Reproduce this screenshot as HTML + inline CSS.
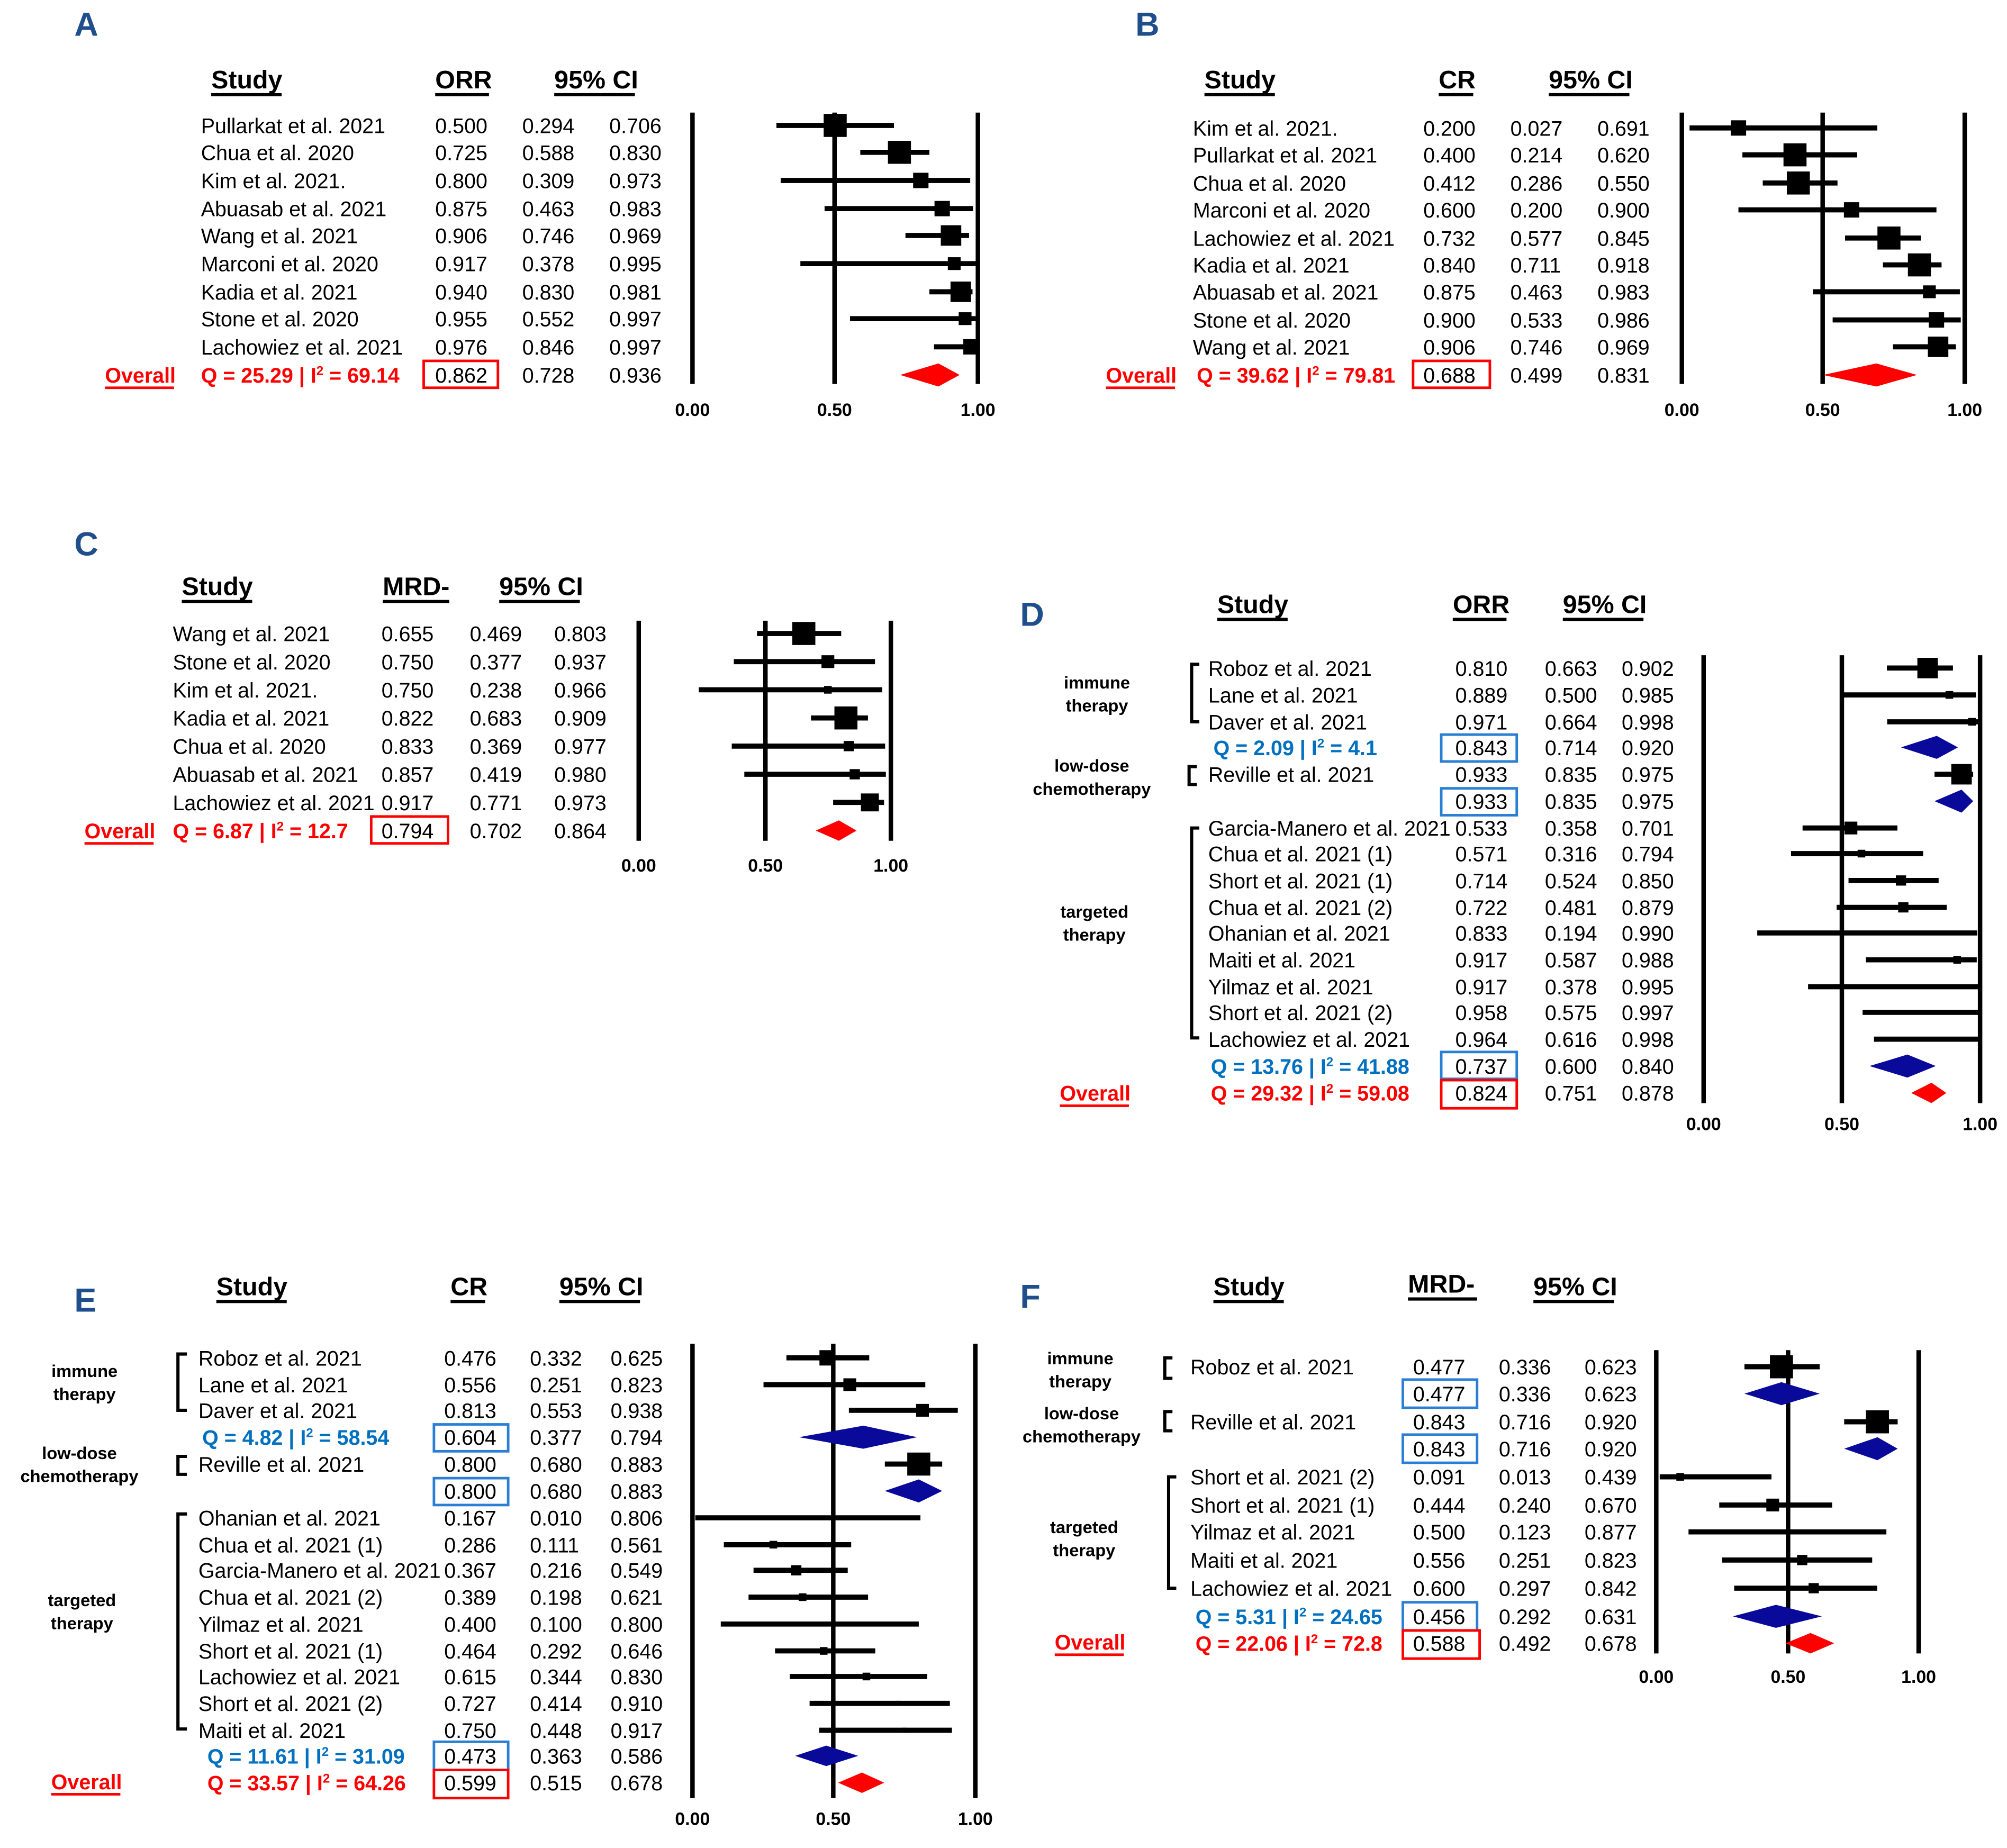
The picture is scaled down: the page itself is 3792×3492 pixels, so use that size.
<!DOCTYPE html>
<html><head><meta charset="utf-8"><style>
html,body{margin:0;padding:0;background:#fff}
svg{display:block}
text{font-family:"Liberation Sans",Arial,sans-serif;fill:#000}
.t{font-size:16.3px}
.h{font-size:20px;font-weight:bold}
.k{font-size:14px;font-weight:bold;text-anchor:middle}
.g{font-size:13.5px;font-weight:bold;text-anchor:middle}
.L{font-size:26px;font-weight:bold;fill:#1f4e8c}
.r{fill:#ff0000;font-weight:bold;font-size:16.3px}
.b{fill:#0070c0;font-weight:bold;font-size:16.3px}
.ax{stroke:#000;stroke-width:3.5}
.ci{stroke:#000;stroke-width:4}
.ul{stroke:#000;stroke-width:2.5}
</style></head><body>
<svg width="3792" height="3492" viewBox="0 0 1568 1444" xmlns="http://www.w3.org/2000/svg">
<rect width="1568" height="1444" fill="#fff"/>

<!-- ===== A ===== -->
<text class="L" x="58" y="28">A</text>
<text class="h" x="165" y="69">Study</text><line class="ul" x1="165" y1="74" x2="220" y2="74"/>
<text class="h" x="340" y="69">ORR</text><line class="ul" x1="340" y1="74" x2="382" y2="74"/>
<text class="h" x="433" y="69">95% CI</text><line class="ul" x1="433" y1="74" x2="496" y2="74"/>
<g class="t">
<text x="157" y="104">Pullarkat et al. 2021</text><text x="340" y="104">0.500</text><text x="408" y="104">0.294</text><text x="476" y="104">0.706</text>
<text x="157" y="125">Chua et al. 2020</text><text x="340" y="125">0.725</text><text x="408" y="125">0.588</text><text x="476" y="125">0.830</text>
<text x="157" y="147">Kim et al. 2021.</text><text x="340" y="147">0.800</text><text x="408" y="147">0.309</text><text x="476" y="147">0.973</text>
<text x="157" y="169">Abuasab et al. 2021</text><text x="340" y="169">0.875</text><text x="408" y="169">0.463</text><text x="476" y="169">0.983</text>
<text x="157" y="190">Wang et al. 2021</text><text x="340" y="190">0.906</text><text x="408" y="190">0.746</text><text x="476" y="190">0.969</text>
<text x="157" y="212">Marconi et al. 2020</text><text x="340" y="212">0.917</text><text x="408" y="212">0.378</text><text x="476" y="212">0.995</text>
<text x="157" y="234">Kadia et al. 2021</text><text x="340" y="234">0.940</text><text x="408" y="234">0.830</text><text x="476" y="234">0.981</text>
<text x="157" y="255">Stone et al. 2020</text><text x="340" y="255">0.955</text><text x="408" y="255">0.552</text><text x="476" y="255">0.997</text>
<text x="157" y="277">Lachowiez et al. 2021</text><text x="340" y="277">0.976</text><text x="408" y="277">0.846</text><text x="476" y="277">0.997</text>
<text x="340" y="299">0.862</text><text x="408" y="299">0.728</text><text x="476" y="299">0.936</text>
</g>
<text class="r" x="82" y="299">Overall</text><line x1="82" y1="303" x2="136" y2="303" stroke="#f00" stroke-width="2"/>
<text class="r" x="157" y="299">Q = 25.29 | I<tspan font-size="10" dy="-6">2</tspan><tspan dy="6"> = 69.14</tspan></text>
<rect x="331" y="282" width="58" height="21" fill="none" stroke="#f00" stroke-width="2"/>
<line class="ax" x1="541" y1="88" x2="541" y2="300"/><line class="ax" x1="652" y1="88" x2="652" y2="300"/><line class="ax" x1="764" y1="88" x2="764" y2="300"/>
<text class="k" x="541" y="325">0.00</text><text class="k" x="652" y="325">0.50</text><text class="k" x="764" y="325">1.00</text>
<line class="ci" x1="606.6" y1="98" x2="698.4" y2="98"/><rect x="643.5" y="89" width="18" height="18"/>
<line class="ci" x1="672.1" y1="119" x2="726.1" y2="119"/><rect x="693.7" y="110" width="18" height="18"/>
<line class="ci" x1="609.9" y1="141" x2="758" y2="141"/><rect x="713.4" y="135" width="12" height="12"/>
<line class="ci" x1="644.2" y1="163" x2="760.2" y2="163"/><rect x="730.1" y="157" width="12" height="12"/>
<line class="ci" x1="707.4" y1="184" x2="757.1" y2="184"/><rect x="735" y="176" width="16" height="16"/>
<line class="ci" x1="625.3" y1="206" x2="762.9" y2="206"/><rect x="740.5" y="201" width="10" height="10"/>
<line class="ci" x1="726.1" y1="228" x2="759.8" y2="228"/><rect x="742.6" y="220" width="16" height="16"/>
<line class="ci" x1="664.1" y1="249" x2="763.3" y2="249"/><rect x="749" y="244" width="10" height="10"/>
<line class="ci" x1="729.7" y1="271" x2="763.3" y2="271"/><rect x="752.6" y="265" width="12" height="12"/>
<polygon points="703.3,293 733.2,284 749.7,293 733.2,302" fill="#f00"/>

<!-- ===== B ===== -->
<text class="L" x="887" y="28">B</text>
<text class="h" x="941" y="69">Study</text><line class="ul" x1="941" y1="74" x2="996" y2="74"/>
<text class="h" x="1124" y="69">CR</text><line class="ul" x1="1124" y1="74" x2="1151" y2="74"/>
<text class="h" x="1210" y="69">95% CI</text><line class="ul" x1="1210" y1="74" x2="1273" y2="74"/>
<g class="t">
<text x="932" y="106">Kim et al. 2021.</text><text x="1112" y="106">0.200</text><text x="1180" y="106">0.027</text><text x="1248" y="106">0.691</text>
<text x="932" y="127">Pullarkat et al. 2021</text><text x="1112" y="127">0.400</text><text x="1180" y="127">0.214</text><text x="1248" y="127">0.620</text>
<text x="932" y="149">Chua et al. 2020</text><text x="1112" y="149">0.412</text><text x="1180" y="149">0.286</text><text x="1248" y="149">0.550</text>
<text x="932" y="170">Marconi et al. 2020</text><text x="1112" y="170">0.600</text><text x="1180" y="170">0.200</text><text x="1248" y="170">0.900</text>
<text x="932" y="192">Lachowiez et al. 2021</text><text x="1112" y="192">0.732</text><text x="1180" y="192">0.577</text><text x="1248" y="192">0.845</text>
<text x="932" y="213">Kadia et al. 2021</text><text x="1112" y="213">0.840</text><text x="1180" y="213">0.711</text><text x="1248" y="213">0.918</text>
<text x="932" y="234">Abuasab et al. 2021</text><text x="1112" y="234">0.875</text><text x="1180" y="234">0.463</text><text x="1248" y="234">0.983</text>
<text x="932" y="256">Stone et al. 2020</text><text x="1112" y="256">0.900</text><text x="1180" y="256">0.533</text><text x="1248" y="256">0.986</text>
<text x="932" y="277">Wang et al. 2021</text><text x="1112" y="277">0.906</text><text x="1180" y="277">0.746</text><text x="1248" y="277">0.969</text>
<text x="1112" y="299">0.688</text><text x="1180" y="299">0.499</text><text x="1248" y="299">0.831</text>
</g>
<text class="r" x="864" y="299">Overall</text><line x1="864" y1="303" x2="918" y2="303" stroke="#f00" stroke-width="2"/>
<text class="r" x="935" y="299">Q = 39.62 | I<tspan font-size="10" dy="-6">2</tspan><tspan dy="6"> = 79.81</tspan></text>
<rect x="1104" y="282" width="60" height="21" fill="none" stroke="#f00" stroke-width="2"/>
<line class="ax" x1="1314" y1="88" x2="1314" y2="300"/><line class="ax" x1="1424" y1="88" x2="1424" y2="300"/><line class="ax" x1="1535" y1="88" x2="1535" y2="300"/>
<text class="k" x="1314" y="325">0.00</text><text class="k" x="1424" y="325">0.50</text><text class="k" x="1535" y="325">1.00</text>
<line class="ci" x1="1320" y1="100" x2="1466.7" y2="100"/><rect x="1352.2" y="94" width="12" height="12"/>
<line class="ci" x1="1361.3" y1="121" x2="1451" y2="121"/><rect x="1393.4" y="112" width="18" height="18"/>
<line class="ci" x1="1377.2" y1="143" x2="1435.6" y2="143"/><rect x="1396" y="134" width="18" height="18"/>
<line class="ci" x1="1358.2" y1="164" x2="1512.9" y2="164"/><rect x="1440.6" y="158" width="12" height="12"/>
<line class="ci" x1="1441.5" y1="186" x2="1500.7" y2="186"/><rect x="1466.8" y="177" width="18" height="18"/>
<line class="ci" x1="1471.1" y1="207" x2="1516.9" y2="207"/><rect x="1490.6" y="198" width="18" height="18"/>
<line class="ci" x1="1416.3" y1="228" x2="1531.2" y2="228"/><rect x="1502.4" y="223" width="10" height="10"/>
<line class="ci" x1="1431.8" y1="250" x2="1531.9" y2="250"/><rect x="1506.9" y="244" width="12" height="12"/>
<line class="ci" x1="1478.9" y1="271" x2="1528.1" y2="271"/><rect x="1506.2" y="263" width="16" height="16"/>
<polygon points="1424.3,293 1466,284 1497.7,293 1466,302" fill="#f00"/>

<!-- ===== C ===== -->
<text class="L" x="58" y="434">C</text>
<text class="h" x="142" y="465">Study</text><line class="ul" x1="142" y1="470" x2="197" y2="470"/>
<text class="h" x="299" y="465">MRD-</text><line class="ul" x1="299" y1="470" x2="351" y2="470"/>
<text class="h" x="390" y="465">95% CI</text><line class="ul" x1="390" y1="470" x2="453" y2="470"/>
<g class="t">
<text x="135" y="501">Wang et al. 2021</text><text x="298" y="501">0.655</text><text x="367" y="501">0.469</text><text x="433" y="501">0.803</text>
<text x="135" y="523">Stone et al. 2020</text><text x="298" y="523">0.750</text><text x="367" y="523">0.377</text><text x="433" y="523">0.937</text>
<text x="135" y="545">Kim et al. 2021.</text><text x="298" y="545">0.750</text><text x="367" y="545">0.238</text><text x="433" y="545">0.966</text>
<text x="135" y="567">Kadia et al. 2021</text><text x="298" y="567">0.822</text><text x="367" y="567">0.683</text><text x="433" y="567">0.909</text>
<text x="135" y="589">Chua et al. 2020</text><text x="298" y="589">0.833</text><text x="367" y="589">0.369</text><text x="433" y="589">0.977</text>
<text x="135" y="611">Abuasab et al. 2021</text><text x="298" y="611">0.857</text><text x="367" y="611">0.419</text><text x="433" y="611">0.980</text>
<text x="135" y="633">Lachowiez et al. 2021</text><text x="298" y="633">0.917</text><text x="367" y="633">0.771</text><text x="433" y="633">0.973</text>
<text x="298" y="655">0.794</text><text x="367" y="655">0.702</text><text x="433" y="655">0.864</text>
</g>
<text class="r" x="66" y="655">Overall</text><line x1="66" y1="659" x2="120" y2="659" stroke="#f00" stroke-width="2"/>
<text class="r" x="135" y="655">Q = 6.87 | I<tspan font-size="10" dy="-6">2</tspan><tspan dy="6"> = 12.7</tspan></text>
<rect x="290" y="638" width="60" height="21" fill="none" stroke="#f00" stroke-width="2"/>
<line class="ax" x1="499" y1="485" x2="499" y2="657"/><line class="ax" x1="598" y1="485" x2="598" y2="657"/><line class="ax" x1="696" y1="485" x2="696" y2="657"/>
<text class="k" x="499" y="681">0.00</text><text class="k" x="598" y="681">0.50</text><text class="k" x="696" y="681">1.00</text>
<line class="ci" x1="591.4" y1="495" x2="657.2" y2="495"/><rect x="619" y="486" width="18" height="18"/>
<line class="ci" x1="573.3" y1="517" x2="683.6" y2="517"/><rect x="641.8" y="512" width="10" height="10"/>
<line class="ci" x1="545.9" y1="539" x2="689.3" y2="539"/><rect x="643.8" y="536" width="6" height="6"/>
<line class="ci" x1="633.6" y1="561" x2="678.1" y2="561"/><rect x="651.9" y="552" width="18" height="18"/>
<line class="ci" x1="571.7" y1="583" x2="691.5" y2="583"/><rect x="659.1" y="579" width="8" height="8"/>
<line class="ci" x1="581.5" y1="605" x2="692.1" y2="605"/><rect x="663.8" y="601" width="8" height="8"/>
<line class="ci" x1="650.9" y1="627" x2="690.7" y2="627"/><rect x="672.6" y="620" width="14" height="14"/>
<polygon points="637.3,649 655.4,641 669.2,649 655.4,657" fill="#f00"/>

<!-- ===== D ===== -->
<text class="L" x="797" y="489">D</text>
<text class="h" x="951" y="479">Study</text><line class="ul" x1="951" y1="484" x2="1006" y2="484"/>
<text class="h" x="1135" y="479">ORR</text><line class="ul" x1="1135" y1="484" x2="1177" y2="484"/>
<text class="h" x="1221" y="479">95% CI</text><line class="ul" x1="1221" y1="484" x2="1284" y2="484"/>
<text class="g" x="857" y="538">immune</text><text class="g" x="857" y="556">therapy</text>
<text class="g" x="853" y="603">low-dose</text><text class="g" x="853" y="621">chemotherapy</text>
<text class="g" x="855" y="717">targeted</text><text class="g" x="855" y="735">therapy</text>
<path d="M937 519 H931 V564 H937 M935 599 H929 V613 H935 M937 647 H931 V811 H937" fill="none" stroke="#000" stroke-width="2.5"/>
<g class="t">
<text x="944" y="528">Roboz et al. 2021</text><text x="1137" y="528">0.810</text><text x="1207" y="528">0.663</text><text x="1267" y="528">0.902</text>
<text x="944" y="549">Lane et al. 2021</text><text x="1137" y="549">0.889</text><text x="1207" y="549">0.500</text><text x="1267" y="549">0.985</text>
<text x="944" y="570">Daver et al. 2021</text><text x="1137" y="570">0.971</text><text x="1207" y="570">0.664</text><text x="1267" y="570">0.998</text>
<text x="1137" y="590">0.843</text><text x="1207" y="590">0.714</text><text x="1267" y="590">0.920</text>
<text x="944" y="611">Reville et al. 2021</text><text x="1137" y="611">0.933</text><text x="1207" y="611">0.835</text><text x="1267" y="611">0.975</text>
<text x="1137" y="632">0.933</text><text x="1207" y="632">0.835</text><text x="1267" y="632">0.975</text>
<text x="944" y="653">Garcia-Manero et al. 2021</text><text x="1137" y="653">0.533</text><text x="1207" y="653">0.358</text><text x="1267" y="653">0.701</text>
<text x="944" y="673">Chua et al. 2021 (1)</text><text x="1137" y="673">0.571</text><text x="1207" y="673">0.316</text><text x="1267" y="673">0.794</text>
<text x="944" y="694">Short et al. 2021 (1)</text><text x="1137" y="694">0.714</text><text x="1207" y="694">0.524</text><text x="1267" y="694">0.850</text>
<text x="944" y="715">Chua et al. 2021 (2)</text><text x="1137" y="715">0.722</text><text x="1207" y="715">0.481</text><text x="1267" y="715">0.879</text>
<text x="944" y="735">Ohanian et al. 2021</text><text x="1137" y="735">0.833</text><text x="1207" y="735">0.194</text><text x="1267" y="735">0.990</text>
<text x="944" y="756">Maiti et al. 2021</text><text x="1137" y="756">0.917</text><text x="1207" y="756">0.587</text><text x="1267" y="756">0.988</text>
<text x="944" y="777">Yilmaz et al. 2021</text><text x="1137" y="777">0.917</text><text x="1207" y="777">0.378</text><text x="1267" y="777">0.995</text>
<text x="944" y="797">Short et al. 2021 (2)</text><text x="1137" y="797">0.958</text><text x="1207" y="797">0.575</text><text x="1267" y="797">0.997</text>
<text x="944" y="818">Lachowiez et al. 2021</text><text x="1137" y="818">0.964</text><text x="1207" y="818">0.616</text><text x="1267" y="818">0.998</text>
<text x="1137" y="839">0.737</text><text x="1207" y="839">0.600</text><text x="1267" y="839">0.840</text>
<text x="1137" y="860">0.824</text><text x="1207" y="860">0.751</text><text x="1267" y="860">0.878</text>
</g>
<text class="b" x="948" y="590">Q = 2.09 | I<tspan font-size="10" dy="-6">2</tspan><tspan dy="6"> = 4.1</tspan></text>
<text class="b" x="946" y="839">Q = 13.76 | I<tspan font-size="10" dy="-6">2</tspan><tspan dy="6"> = 41.88</tspan></text>
<text class="r" x="946" y="860">Q = 29.32 | I<tspan font-size="10" dy="-6">2</tspan><tspan dy="6"> = 59.08</tspan></text>
<text class="r" x="828" y="860">Overall</text><line x1="828" y1="864" x2="882" y2="864" stroke="#f00" stroke-width="2"/>
<rect x="1126" y="574" width="59" height="21" fill="none" stroke="#2a7fd4" stroke-width="2"/>
<rect x="1126" y="616" width="59" height="21" fill="none" stroke="#2a7fd4" stroke-width="2"/>
<rect x="1126" y="822" width="59" height="21" fill="none" stroke="#2a7fd4" stroke-width="2"/>
<rect x="1126" y="844" width="59" height="22" fill="none" stroke="#f00" stroke-width="2"/>
<line class="ax" x1="1331" y1="512" x2="1331" y2="862"/><line class="ax" x1="1439" y1="512" x2="1439" y2="862"/><line class="ax" x1="1547" y1="512" x2="1547" y2="862"/>
<text class="k" x="1331" y="883">0.00</text><text class="k" x="1439" y="883">0.50</text><text class="k" x="1547" y="883">1.00</text>
<line class="ci" x1="1474.2" y1="522" x2="1525.8" y2="522"/><rect x="1498" y="514" width="16" height="16"/>
<line class="ci" x1="1439" y1="543" x2="1543.8" y2="543"/><rect x="1520" y="540" width="6" height="6"/>
<line class="ci" x1="1474.4" y1="564" x2="1546.6" y2="564"/><rect x="1537.7" y="561" width="6" height="6"/>
<polygon points="1485.2,584 1513.1,575 1529.7,584 1513.1,593" fill="#0a0a9a"/>
<line class="ci" x1="1511.4" y1="605" x2="1541.6" y2="605"/><rect x="1524.5" y="597" width="16" height="16"/>
<polygon points="1511.4,626 1532.5,617 1541.6,626 1532.5,635" fill="#0a0a9a"/>
<line class="ci" x1="1408.3" y1="647" x2="1482.4" y2="647"/><rect x="1441.1" y="642" width="10" height="10"/>
<line class="ci" x1="1399.3" y1="667" x2="1502.5" y2="667"/><rect x="1451.3" y="664" width="6" height="6"/>
<line class="ci" x1="1444.2" y1="688" x2="1514.6" y2="688"/><rect x="1481.2" y="684" width="8" height="8"/>
<line class="ci" x1="1434.9" y1="709" x2="1520.9" y2="709"/><rect x="1483" y="705" width="8" height="8"/>
<line class="ci" x1="1372.9" y1="729" x2="1544.8" y2="729"/>
<line class="ci" x1="1457.8" y1="750" x2="1544.4" y2="750"/><rect x="1526.1" y="747" width="6" height="6"/>
<line class="ci" x1="1412.6" y1="771" x2="1545.9" y2="771"/>
<line class="ci" x1="1455.2" y1="791" x2="1546.4" y2="791"/>
<line class="ci" x1="1464.1" y1="812" x2="1546.6" y2="812"/>
<polygon points="1460.6,833 1490.2,824 1512.4,833 1490.2,842" fill="#0a0a9a"/>
<polygon points="1493.2,854 1509,846 1520.6,854 1509,862" fill="#f00"/>

<!-- ===== E ===== -->
<text class="L" x="58" y="1025">E</text>
<text class="h" x="169" y="1012">Study</text><line class="ul" x1="169" y1="1017" x2="224" y2="1017"/>
<text class="h" x="352" y="1012">CR</text><line class="ul" x1="352" y1="1017" x2="379" y2="1017"/>
<text class="h" x="437" y="1012">95% CI</text><line class="ul" x1="437" y1="1017" x2="500" y2="1017"/>
<text class="g" x="66" y="1076">immune</text><text class="g" x="66" y="1094">therapy</text>
<text class="g" x="62" y="1140">low-dose</text><text class="g" x="62" y="1158">chemotherapy</text>
<text class="g" x="64" y="1255">targeted</text><text class="g" x="64" y="1273">therapy</text>
<path d="M146 1058 H139 V1102 H146 M146 1138 H139 V1152 H146 M146 1183 H139 V1351 H146" fill="none" stroke="#000" stroke-width="2.5"/>
<g class="t">
<text x="155" y="1067">Roboz et al. 2021</text><text x="347" y="1067">0.476</text><text x="414" y="1067">0.332</text><text x="477" y="1067">0.625</text>
<text x="155" y="1088">Lane et al. 2021</text><text x="347" y="1088">0.556</text><text x="414" y="1088">0.251</text><text x="477" y="1088">0.823</text>
<text x="155" y="1108">Daver et al. 2021</text><text x="347" y="1108">0.813</text><text x="414" y="1108">0.553</text><text x="477" y="1108">0.938</text>
<text x="347" y="1129">0.604</text><text x="414" y="1129">0.377</text><text x="477" y="1129">0.794</text>
<text x="155" y="1150">Reville et al. 2021</text><text x="347" y="1150">0.800</text><text x="414" y="1150">0.680</text><text x="477" y="1150">0.883</text>
<text x="347" y="1171">0.800</text><text x="414" y="1171">0.680</text><text x="477" y="1171">0.883</text>
<text x="155" y="1192">Ohanian et al. 2021</text><text x="347" y="1192">0.167</text><text x="414" y="1192">0.010</text><text x="477" y="1192">0.806</text>
<text x="155" y="1213">Chua et al. 2021 (1)</text><text x="347" y="1213">0.286</text><text x="414" y="1213">0.111</text><text x="477" y="1213">0.561</text>
<text x="155" y="1233">Garcia-Manero et al. 2021</text><text x="347" y="1233">0.367</text><text x="414" y="1233">0.216</text><text x="477" y="1233">0.549</text>
<text x="155" y="1254">Chua et al. 2021 (2)</text><text x="347" y="1254">0.389</text><text x="414" y="1254">0.198</text><text x="477" y="1254">0.621</text>
<text x="155" y="1275">Yilmaz et al. 2021</text><text x="347" y="1275">0.400</text><text x="414" y="1275">0.100</text><text x="477" y="1275">0.800</text>
<text x="155" y="1296">Short et al. 2021 (1)</text><text x="347" y="1296">0.464</text><text x="414" y="1296">0.292</text><text x="477" y="1296">0.646</text>
<text x="155" y="1316">Lachowiez et al. 2021</text><text x="347" y="1316">0.615</text><text x="414" y="1316">0.344</text><text x="477" y="1316">0.830</text>
<text x="155" y="1337">Short et al. 2021 (2)</text><text x="347" y="1337">0.727</text><text x="414" y="1337">0.414</text><text x="477" y="1337">0.910</text>
<text x="155" y="1358">Maiti et al. 2021</text><text x="347" y="1358">0.750</text><text x="414" y="1358">0.448</text><text x="477" y="1358">0.917</text>
<text x="347" y="1378">0.473</text><text x="414" y="1378">0.363</text><text x="477" y="1378">0.586</text>
<text x="347" y="1399">0.599</text><text x="414" y="1399">0.515</text><text x="477" y="1399">0.678</text>
</g>
<text class="b" x="158" y="1129">Q = 4.82 | I<tspan font-size="10" dy="-6">2</tspan><tspan dy="6"> = 58.54</tspan></text>
<text class="b" x="162" y="1378">Q = 11.61 | I<tspan font-size="10" dy="-6">2</tspan><tspan dy="6"> = 31.09</tspan></text>
<text class="r" x="162" y="1399">Q = 33.57 | I<tspan font-size="10" dy="-6">2</tspan><tspan dy="6"> = 64.26</tspan></text>
<text class="r" x="40" y="1398">Overall</text><line x1="40" y1="1402" x2="94" y2="1402" stroke="#f00" stroke-width="2"/>
<rect x="339" y="1113" width="58" height="21" fill="none" stroke="#2a7fd4" stroke-width="2"/>
<rect x="339" y="1155" width="58" height="21" fill="none" stroke="#2a7fd4" stroke-width="2"/>
<rect x="339" y="1361" width="58" height="22" fill="none" stroke="#2a7fd4" stroke-width="2"/>
<rect x="339" y="1383" width="58" height="22" fill="none" stroke="#f00" stroke-width="2"/>
<line class="ax" x1="541" y1="1050" x2="541" y2="1405"/><line class="ax" x1="651" y1="1050" x2="651" y2="1405"/><line class="ax" x1="762" y1="1050" x2="762" y2="1405"/>
<text class="k" x="541" y="1426">0.00</text><text class="k" x="651" y="1426">0.50</text><text class="k" x="762" y="1426">1.00</text>
<line class="ci" x1="614.4" y1="1061" x2="679.1" y2="1061"/><rect x="640.2" y="1055" width="12" height="12"/>
<line class="ci" x1="596.5" y1="1082" x2="722.9" y2="1082"/><rect x="658.9" y="1077" width="10" height="10"/>
<line class="ci" x1="663.2" y1="1102" x2="748.3" y2="1102"/><rect x="715.7" y="1097" width="10" height="10"/>
<polygon points="624.3,1123 674.5,1114 716.5,1123 674.5,1132" fill="#0a0a9a"/>
<line class="ci" x1="691.3" y1="1144" x2="736.1" y2="1144"/><rect x="708.8" y="1135" width="18" height="18"/>
<polygon points="691.3,1165 717.8,1156 736.1,1165 717.8,1174" fill="#0a0a9a"/>
<line class="ci" x1="543.2" y1="1186" x2="719.1" y2="1186"/>
<line class="ci" x1="565.5" y1="1207" x2="665" y2="1207"/><rect x="601.2" y="1204" width="6" height="6"/>
<line class="ci" x1="588.7" y1="1227" x2="662.3" y2="1227"/><rect x="618.1" y="1223" width="8" height="8"/>
<line class="ci" x1="584.8" y1="1248" x2="678.2" y2="1248"/><rect x="624" y="1245" width="6" height="6"/>
<line class="ci" x1="563.1" y1="1269" x2="717.8" y2="1269"/>
<line class="ci" x1="605.5" y1="1290" x2="683.8" y2="1290"/><rect x="640.5" y="1287" width="6" height="6"/>
<line class="ci" x1="617" y1="1310" x2="724.4" y2="1310"/><rect x="673.9" y="1307" width="6" height="6"/>
<line class="ci" x1="632.5" y1="1331" x2="742.1" y2="1331"/><rect x="699.7" y="1329" width="4" height="4"/>
<line class="ci" x1="640" y1="1352" x2="743.7" y2="1352"/><rect x="704.8" y="1350" width="4" height="4"/>
<polygon points="621.2,1372 645.5,1364 670.5,1372 645.5,1380" fill="#0a0a9a"/>
<polygon points="654.8,1393 673.4,1385 690.8,1393 673.4,1401" fill="#f00"/>

<!-- ===== F ===== -->
<text class="L" x="797" y="1022">F</text>
<text class="h" x="948" y="1012">Study</text><line class="ul" x1="948" y1="1017" x2="1003" y2="1017"/>
<text class="h" x="1100" y="1010">MRD-</text><line class="ul" x1="1100" y1="1015" x2="1154" y2="1015"/>
<text class="h" x="1198" y="1012">95% CI</text><line class="ul" x1="1198" y1="1017" x2="1261" y2="1017"/>
<text class="g" x="844" y="1066">immune</text><text class="g" x="844" y="1084">therapy</text>
<text class="g" x="845" y="1109">low-dose</text><text class="g" x="845" y="1127">chemotherapy</text>
<text class="g" x="847" y="1198">targeted</text><text class="g" x="847" y="1216">therapy</text>
<path d="M916 1061 H910 V1077 H916 M916 1103 H910 V1118 H916 M919 1154 H913 V1241 H919" fill="none" stroke="#000" stroke-width="2.5"/>
<g class="t">
<text x="930" y="1074">Roboz et al. 2021</text><text x="1104" y="1074">0.477</text><text x="1171" y="1074">0.336</text><text x="1238" y="1074">0.623</text>
<text x="1104" y="1095">0.477</text><text x="1171" y="1095">0.336</text><text x="1238" y="1095">0.623</text>
<text x="930" y="1117">Reville et al. 2021</text><text x="1104" y="1117">0.843</text><text x="1171" y="1117">0.716</text><text x="1238" y="1117">0.920</text>
<text x="1104" y="1138">0.843</text><text x="1171" y="1138">0.716</text><text x="1238" y="1138">0.920</text>
<text x="930" y="1160">Short et al. 2021 (2)</text><text x="1104" y="1160">0.091</text><text x="1171" y="1160">0.013</text><text x="1238" y="1160">0.439</text>
<text x="930" y="1182">Short et al. 2021 (1)</text><text x="1104" y="1182">0.444</text><text x="1171" y="1182">0.240</text><text x="1238" y="1182">0.670</text>
<text x="930" y="1203">Yilmaz et al. 2021</text><text x="1104" y="1203">0.500</text><text x="1171" y="1203">0.123</text><text x="1238" y="1203">0.877</text>
<text x="930" y="1225">Maiti et al. 2021</text><text x="1104" y="1225">0.556</text><text x="1171" y="1225">0.251</text><text x="1238" y="1225">0.823</text>
<text x="930" y="1247">Lachowiez et al. 2021</text><text x="1104" y="1247">0.600</text><text x="1171" y="1247">0.297</text><text x="1238" y="1247">0.842</text>
<text x="1104" y="1269">0.456</text><text x="1171" y="1269">0.292</text><text x="1238" y="1269">0.631</text>
<text x="1104" y="1290">0.588</text><text x="1171" y="1290">0.492</text><text x="1238" y="1290">0.678</text>
</g>
<text class="b" x="934" y="1269">Q = 5.31 | I<tspan font-size="10" dy="-6">2</tspan><tspan dy="6"> = 24.65</tspan></text>
<text class="r" x="934" y="1290">Q = 22.06 | I<tspan font-size="10" dy="-6">2</tspan><tspan dy="6"> = 72.8</tspan></text>
<text class="r" x="824" y="1289">Overall</text><line x1="824" y1="1293" x2="878" y2="1293" stroke="#f00" stroke-width="2"/>
<rect x="1096" y="1078" width="58" height="22" fill="none" stroke="#2a7fd4" stroke-width="2"/>
<rect x="1096" y="1121" width="58" height="22" fill="none" stroke="#2a7fd4" stroke-width="2"/>
<rect x="1096" y="1252" width="58" height="22" fill="none" stroke="#2a7fd4" stroke-width="2"/>
<rect x="1096" y="1274" width="60" height="22" fill="none" stroke="#f00" stroke-width="2"/>
<line class="ax" x1="1294" y1="1055" x2="1294" y2="1292"/><line class="ax" x1="1397" y1="1055" x2="1397" y2="1292"/><line class="ax" x1="1499" y1="1055" x2="1499" y2="1292"/>
<text class="k" x="1294" y="1315">0.00</text><text class="k" x="1397" y="1315">0.50</text><text class="k" x="1499" y="1315">1.00</text>
<line class="ci" x1="1362.9" y1="1068" x2="1421.7" y2="1068"/><rect x="1382.8" y="1059" width="18" height="18"/>
<polygon points="1362.9,1089 1391.8,1080 1421.7,1089 1391.8,1098" fill="#0a0a9a"/>
<line class="ci" x1="1440.8" y1="1111" x2="1482.6" y2="1111"/><rect x="1457.8" y="1102" width="18" height="18"/>
<polygon points="1440.8,1132 1466.8,1123 1482.6,1132 1466.8,1141" fill="#0a0a9a"/>
<line class="ci" x1="1296.7" y1="1154" x2="1384" y2="1154"/><rect x="1309.7" y="1151" width="6" height="6"/>
<line class="ci" x1="1343.2" y1="1176" x2="1431.4" y2="1176"/><rect x="1380" y="1171" width="10" height="10"/>
<line class="ci" x1="1319.2" y1="1197" x2="1473.8" y2="1197"/><rect x="1394.5" y="1195" width="4" height="4"/>
<line class="ci" x1="1345.5" y1="1219" x2="1462.7" y2="1219"/><rect x="1404" y="1215" width="8" height="8"/>
<line class="ci" x1="1354.9" y1="1241" x2="1466.6" y2="1241"/><rect x="1413" y="1237" width="8" height="8"/>
<polygon points="1353.9,1263 1387.5,1254 1423.4,1263 1387.5,1272" fill="#0a0a9a"/>
<polygon points="1394.9,1284 1414.5,1276 1433,1284 1414.5,1292" fill="#f00"/>
</svg>
</body></html>
